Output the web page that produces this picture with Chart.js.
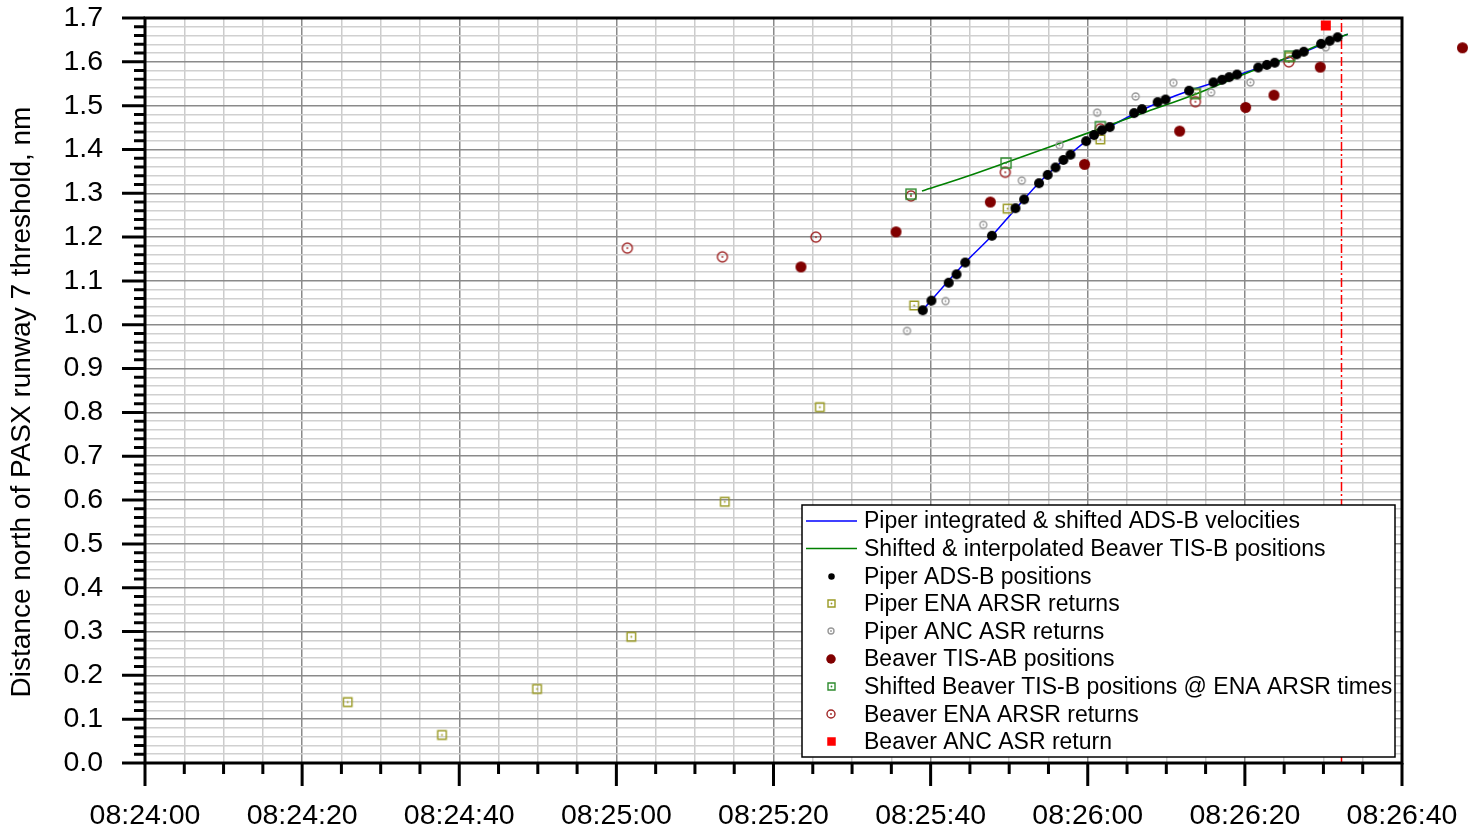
<!DOCTYPE html>
<html>
<head>
<meta charset="utf-8">
<script src="https://cdn.jsdelivr.net/npm/chart.js@4.4.1/dist/chart.umd.min.js"></script>
<style>
  html, body { margin: 0; background: #fff; }
  #wrap { width: 1478px; height: 832px; }
</style>
</head>
<body>
<div id="wrap"><canvas id="chart" width="1478" height="832"></canvas></div>
<script>
// Times are seconds after 08:24:00, distances in nm north of the threshold.
const T0 = 8 * 3600 + 24 * 60;
const X_MIN = 0, X_MAX = 160;
const Y_MIN = 0, Y_MAX = 1.7;

const piperVelT = [98.6, 104.4, 107.8, 110.9, 113.8, 116.9, 119.8, 121.8, 122.7, 126.9, 129.8, 132.9, 139.0, 143.7, 147.5, 151.8, 153.1];
const piperVelD = [1.026, 1.142, 1.203, 1.266, 1.324, 1.376, 1.419, 1.442, 1.451, 1.490, 1.513, 1.534, 1.569, 1.598, 1.622, 1.655, 1.663];

const beaverInterpT = [98.9, 104.2, 109.6, 116.1, 121.6, 127.5, 133.7, 140.2, 145.8, 150.4, 153.1];
const beaverInterpD = [1.305, 1.336, 1.370, 1.412, 1.448, 1.486, 1.526, 1.574, 1.612, 1.645, 1.663];

const piperAdsbT = [99.0, 100.1, 102.3, 103.3, 104.4, 107.8, 110.8, 111.9, 113.8, 114.9, 115.9, 116.9, 117.8, 119.8, 120.8, 121.8, 122.8, 125.9, 126.9, 128.9, 129.9, 132.9, 136.0, 137.1, 138.0, 139.0, 141.7, 142.8, 143.8, 146.6, 147.5, 149.7, 150.8, 151.8];
const piperAdsbD = [1.033, 1.055, 1.096, 1.115, 1.142, 1.203, 1.266, 1.286, 1.323, 1.342, 1.359, 1.376, 1.388, 1.419, 1.433, 1.444, 1.451, 1.483, 1.492, 1.508, 1.514, 1.534, 1.553, 1.559, 1.565, 1.571, 1.587, 1.593, 1.598, 1.617, 1.623, 1.641, 1.648, 1.656];

const piperEnaT = [25.8, 37.8, 49.9, 61.9, 73.8, 85.9, 97.9, 109.8, 121.6, 133.7, 145.7];
const piperEnaD = [0.139, 0.064, 0.169, 0.288, 0.596, 0.812, 1.044, 1.265, 1.423, 1.527, 1.611];

const piperAncT = [97.0, 101.9, 106.7, 111.6, 116.4, 121.2, 126.1, 130.9, 135.7, 140.7, 150.3];
const piperAncD = [0.986, 1.054, 1.228, 1.329, 1.410, 1.484, 1.521, 1.552, 1.530, 1.553, 1.633];

const beaverTisT = [83.5, 95.6, 107.6, 119.6, 131.7, 140.1, 143.7, 149.6, 167.7];
const beaverTisD = [1.132, 1.212, 1.280, 1.366, 1.442, 1.496, 1.524, 1.588, 1.632];

const beaverShiftT = [97.5, 109.6, 121.6, 133.7, 145.7];
const beaverShiftD = [1.298, 1.369, 1.452, 1.528, 1.613];

const beaverEnaT = [61.4, 73.5, 85.4, 97.5, 109.5, 121.6, 133.7, 145.6];
const beaverEnaD = [1.175, 1.155, 1.200, 1.294, 1.348, 1.447, 1.509, 1.600];

const beaverAncT = [150.3];
const beaverAncD = [1.683];

const cutoffT = 152.3;   // red dash-dot marker

const pts = (ts, ds) => ts.map((t, i) => ({x: t, y: ds[i]}));

function fmtTime(s){
  const t = T0 + s;
  const p = n => String(n).padStart(2, '0');
  return `${p(Math.floor(t / 3600))}:${p(Math.floor(t / 60) % 60)}:${p(t % 60)}`;
}

// little canvas markers, hollow ones get a dot in the middle
function marker(shape, size, color, fill, dot){
  const pad = 3, s = Math.ceil(size) + pad * 2;
  const c = document.createElement('canvas');
  c.width = c.height = s;
  const g = c.getContext('2d');
  const m = s / 2, r = size / 2;
  g.strokeStyle = color; g.fillStyle = color; g.lineWidth = 1.4;
  g.beginPath();
  if (shape === 'circle') g.arc(m, m, r, 0, Math.PI * 2);
  else g.rect(m - r, m - r, size, size);
  if (fill) g.fill(); else g.stroke();
  if (dot){ g.beginPath(); g.arc(m, m, 0.9, 0, Math.PI * 2); g.fill(); }
  return c;
}

const OLIVE = '#9a9a24', GREY = '#999999', DKRED = '#800000', GREEN = '#2e8b2e', BRED = '#a02626';

const isMajorY = v => Math.abs(v * 10 - Math.round(v * 10)) < 1e-6;

const frame = {
  id: 'frame',
  afterDatasetsDraw(chart){
    const {ctx, scales: {x: xs, y: ys}} = chart;
    // points past the right edge (the library skips them)
    chart.data.datasets.forEach(ds => {
      if (!ds.outside) return;
      ds.data.forEach(p => {
        if (p.x <= X_MAX) return;
        const img = ds.pointStyle;
        ctx.drawImage(img, xs.getPixelForValue(p.x) - img.width / 2, ys.getPixelForValue(p.y) - img.height / 2);
      });
    });

    // legend box
    const L = {x: 802, y: 505, w: 593, h: 252, row: 27.6};
    ctx.save();
    ctx.fillStyle = '#fff';
    ctx.fillRect(L.x, L.y, L.w, L.h);
    ctx.strokeStyle = '#000'; ctx.lineWidth = 1.5;
    ctx.strokeRect(L.x, L.y, L.w, L.h);
    ctx.font = "23px 'Liberation Sans', Arial, sans-serif";
    ctx.textBaseline = 'middle';
    let row = 0;
    chart.data.datasets.forEach(ds => {
      if (ds.noLegend) return;
      const cy = L.y + 16 + row * L.row;
      if (ds.showLine){
        ctx.strokeStyle = ds.borderColor; ctx.lineWidth = 1.5;
        ctx.beginPath(); ctx.moveTo(L.x + 4, cy); ctx.lineTo(L.x + 55, cy); ctx.stroke();
      } else {
        const img = ds.legendStyle;
        ctx.drawImage(img, Math.round(L.x + 29 - img.width / 2), Math.round(cy - img.height / 2));
      }
      ctx.fillStyle = '#000';
      ctx.fillText(ds.label, L.x + 62, cy + 1);
      row++;
    });
    ctx.restore();
  },
  afterDraw(chart){
    const {ctx, chartArea: a, scales: {x: xs, y: ys}} = chart;
    ctx.save();
    ctx.strokeStyle = '#000';
    ctx.lineWidth = 3;
    ctx.beginPath();
    for (let v = X_MIN; v <= X_MAX; v += 5){
      const px = xs.getPixelForValue(v);
      ctx.moveTo(px, a.bottom); ctx.lineTo(px, a.bottom + (v % 20 === 0 ? 23 : 11));
    }
    for (let i = 0; i <= 85; i++){
      const v = i * 0.02;
      const py = ys.getPixelForValue(v);
      ctx.moveTo(a.left, py); ctx.lineTo(a.left - (isMajorY(v) ? 23 : 11), py);
    }
    ctx.stroke();
    ctx.strokeRect(a.left, a.top, a.right - a.left, a.bottom - a.top);

    // axis title
    ctx.translate(22, 402);
    ctx.rotate(-Math.PI / 2);
    ctx.font = "28px 'Liberation Sans', Arial, sans-serif";
    ctx.fillStyle = '#000';
    ctx.textAlign = 'center';
    ctx.textBaseline = 'middle';
    ctx.fillText('Distance north of PASX runway 7 threshold, nm', 0, 0);
    ctx.restore();
  }
};

Chart.defaults.font.family = "'Liberation Sans', Arial, sans-serif";
Chart.defaults.color = '#000';

new Chart(document.getElementById('chart'), {
  type: 'scatter',
  data: {
    datasets: [
      {label: 'Piper integrated & shifted ADS-B velocities', data: pts(piperVelT, piperVelD), showLine: true,
       borderColor: '#0000ff', borderWidth: 1.5, pointRadius: 0, cubicInterpolationMode: 'monotone', order: 9},
      {label: 'Shifted & interpolated Beaver TIS-B positions', data: pts(beaverInterpT, beaverInterpD), showLine: true,
       borderColor: '#008000', borderWidth: 1.6, pointRadius: 0, cubicInterpolationMode: 'monotone', order: 8},
      {label: 'Piper ADS-B positions', data: pts(piperAdsbT, piperAdsbD), pointRadius: 4,
       pointStyle: marker('circle', 10, '#000', true), legendStyle: marker('circle', 6.5, '#000', true), order: 2},
      {label: 'Piper ENA ARSR returns', data: pts(piperEnaT, piperEnaD), pointRadius: 4,
       pointStyle: marker('rect', 8.5, OLIVE, false, true), legendStyle: marker('rect', 7, OLIVE, false, true), order: 6},
      {label: 'Piper ANC ASR returns', data: pts(piperAncT, piperAncD), pointRadius: 4,
       pointStyle: marker('circle', 7, GREY, false, true), legendStyle: marker('circle', 6, GREY, false, true), order: 7},
      {label: 'Beaver TIS-AB positions', data: pts(beaverTisT, beaverTisD), pointRadius: 5, outside: true,
       pointStyle: marker('circle', 11, DKRED, true), legendStyle: marker('circle', 9.5, DKRED, true), order: 5},
      {label: 'Shifted Beaver TIS-B positions @ ENA ARSR times', data: pts(beaverShiftT, beaverShiftD), pointRadius: 4,
       pointStyle: marker('rect', 10, GREEN, false, true), legendStyle: marker('rect', 7, GREEN, false, true), order: 3},
      {label: 'Beaver ENA ARSR returns', data: pts(beaverEnaT, beaverEnaD), pointRadius: 4,
       pointStyle: marker('circle', 10, BRED, false, true), legendStyle: marker('circle', 8, BRED, false, true), order: 4},
      {label: 'Beaver ANC ASR return', data: pts(beaverAncT, beaverAncD), pointRadius: 4,
       pointStyle: marker('rect', 10, '#ff0000', true), legendStyle: marker('rect', 8.5, '#ff0000', true), order: 1},
      {label: '', data: [{x: cutoffT, y: Y_MIN}, {x: cutoffT, y: Y_MAX}], showLine: true, noLegend: true,
       borderColor: '#ff0000', borderWidth: 1.5, borderDash: [9, 3, 2, 3], pointRadius: 0, order: 10}
    ]
  },
  options: {
    responsive: false,
    animation: false,
    events: [],
    layout: {padding: {top: 18, right: 76, left: 0, bottom: 0}},
    plugins: {legend: {display: false}, tooltip: {enabled: false}},
    scales: {
      x: {
        type: 'linear', min: X_MIN, max: X_MAX,
        border: {display: false},
        grid: {
          drawTicks: false,
          lineWidth: 1.5,
          color: c => (c.tick && c.tick.value % 20 === 0) ? '#8a8a8a' : '#cccccc'
        },
        ticks: {
          stepSize: 5, autoSkip: false, maxRotation: 0, padding: 36,
          font: {size: 28.5},
          callback: v => v % 20 === 0 ? fmtTime(v) : ''
        },
        afterFit: s => { s.height = 69; s.paddingLeft = 0; s.paddingRight = 0; }
      },
      y: {
        type: 'linear', min: Y_MIN, max: Y_MAX,
        border: {display: false},
        grid: {
          drawTicks: false,
          lineWidth: 1.5,
          color: c => (c.tick && isMajorY(c.tick.value)) ? '#8a8a8a' : '#d0d0d0'
        },
        ticks: {
          stepSize: 0.02, autoSkip: false, padding: 42,
          font: {size: 28.5},
          callback: v => isMajorY(v) ? v.toFixed(1) : ''
        },
        afterFit: s => { s.width = 145; s.paddingTop = 0; s.paddingBottom = 0; }
      }
    }
  },
  plugins: [frame]
});
</script>
</body>
</html>
